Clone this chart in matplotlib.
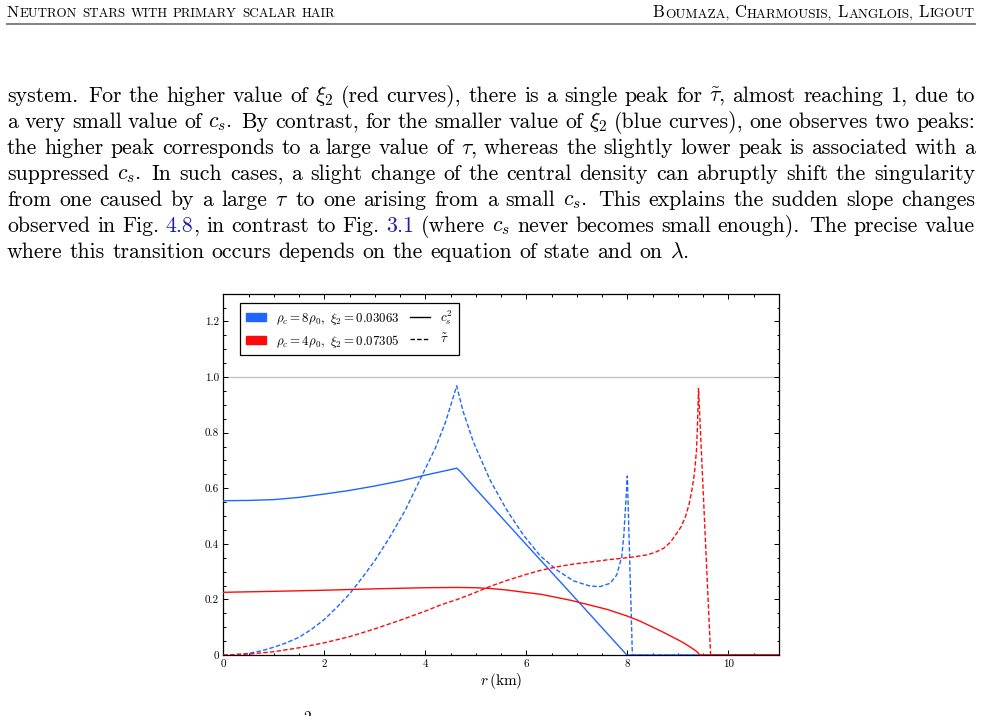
import matplotlib
matplotlib.use("Agg")
import matplotlib.pyplot as plt
from matplotlib.patches import Patch
from matplotlib.lines import Line2D
from matplotlib.ticker import MultipleLocator, FixedLocator, FuncFormatter

# ------------------------------------------------------------------ data
# blue: rho_c = 8 rho_0, xi_2 = 0.03063
r_blue_cs2 = [0, 0.5, 1, 1.5, 2, 2.5, 3, 3.5, 4, 4.3, 4.5, 4.62, 4.7, 5.0, 6.0, 7.0, 7.99, 11]
cs2_blue = [0.555, 0.556, 0.559, 0.567, 0.579, 0.592, 0.608, 0.626, 0.647, 0.659, 0.667, 0.672,
            0.659, 0.597, 0.397, 0.198, 0.0, 0.0]
r_blue_tau = [0, 0.25, 0.5, 0.75, 1.0, 1.25, 1.5, 1.75, 2.0, 2.25, 2.5, 2.75, 3.0, 3.3, 3.6,
              3.9, 4.2, 4.4, 4.62, 4.75, 4.95, 5.28, 5.61, 5.94, 6.27, 6.6, 6.93, 7.26, 7.46,
              7.66, 7.79, 7.89, 7.93, 7.96, 7.98, 8.0, 8.1, 11]
tau_blue = [0, 0.002, 0.006, 0.015, 0.028, 0.044, 0.064, 0.093, 0.128, 0.172, 0.22, 0.278, 0.34,
            0.425, 0.52, 0.633, 0.745, 0.838, 0.968, 0.875, 0.767, 0.63, 0.522, 0.432, 0.358,
            0.306, 0.267, 0.248, 0.246, 0.258, 0.288, 0.354, 0.43, 0.52, 0.58, 0.644, 0.0, 0.0]
# red: rho_c = 4 rho_0, xi_2 = 0.07305
r_red_cs2 = [0, 1, 2, 3, 4, 4.6, 5.0, 5.3, 5.6, 5.9, 6.3, 6.9, 7.6, 8.0, 8.25, 8.7, 9.0, 9.1,
             9.2, 9.3, 9.35, 9.40, 9.43, 11]
cs2_red = [0.2255, 0.229, 0.233, 0.238, 0.242, 0.243, 0.242, 0.239, 0.234, 0.227, 0.218, 0.196,
           0.164, 0.14, 0.122, 0.083, 0.055, 0.045, 0.034, 0.022, 0.016, 0.008, 0.0, 0.0]
r_red_tau = [0, 0.5, 1.0, 1.5, 2.0, 2.5, 3.0, 3.5, 4.0, 4.3, 4.62, 4.95, 5.3, 5.61, 6.0,
             6.27, 6.6, 6.93, 7.3, 7.59, 8.05, 8.39, 8.55, 8.72, 8.85, 8.98, 9.07, 9.15, 9.22,
             9.28, 9.33, 9.37, 9.39, 9.41, 9.65, 11]
tau_red = [0, 0.003, 0.012, 0.026, 0.044, 0.066, 0.094, 0.125, 0.158, 0.18, 0.199, 0.222, 0.248,
           0.268, 0.29, 0.304, 0.317, 0.327, 0.335, 0.342, 0.351, 0.36, 0.369, 0.384, 0.405,
           0.438, 0.463, 0.497, 0.54, 0.594, 0.655, 0.737, 0.83, 0.959, 0.0, 0.0]

x_ticks = [0, 2, 4, 6, 8, 10]
y_ticks = [0, 0.2, 0.4, 0.6, 0.8, 1.0, 1.2]
legend_series = [r"$\rho_c = 8\rho_0,\ \xi_2 = 0.03063$", r"$\rho_c = 4\rho_0,\ \xi_2 = 0.07305$"]
legend_styles = [r"$c_s^2$", r"$\tilde{\tau}$"]
x_label = r"$r\,$(km)"

header_left = "Neutron stars with primary scalar hair"
header_right = "Boumaza, Charmousis, Langlois, Ligout"
body_lines = [
    r"system. For the higher value of $\xi_2$ (red curves), there is a single peak for $\tilde{\tau}$, almost reaching 1, due to",
    r"a very small value of $c_s$. By contrast, for the smaller value of $\xi_2$ (blue curves), one observes two peaks:",
    r"the higher peak corresponds to a large value of $\tau$, whereas the slightly lower peak is associated with a",
    r"suppressed $c_s$. In such cases, a slight change of the central density can abruptly shift the singularity",
    r"from one caused by a large $\tau$ to one arising from a small $c_s$. This explains the sudden slope changes",
    r"observed in Fig. §4.8§, in contrast to Fig. §3.1§ (where $c_s$ never becomes small enough). The precise value",
    r"where this transition occurs depends on the equation of state and on $\lambda$.",
]

# ------------------------------------------------------------------ style
BLUE = "#1f66ff"
RED = "#ff0a0a"
LINK = "#1c1cb0"
W, H = 982, 716

plt.rcParams["font.family"] = "cmr10"
plt.rcParams["mathtext.fontset"] = "cm"
plt.rcParams["axes.formatter.use_mathtext"] = True

fig = plt.figure(figsize=(W / 100, H / 100), dpi=100)
renderer = fig.canvas.get_renderer()


def fx(px):
    return px / W


def fy(py):
    return 1 - py / H


def mk(s, size, color="black"):
    return fig.text(0, 0, s, fontsize=size, color=color, va="baseline", ha="left")


def wid(t):
    return t.get_window_extent(renderer).width


def space_w(size):
    a = mk("a a", size)
    b = mk("aa", size)
    w = wid(a) - wid(b)
    a.remove()
    b.remove()
    return w


# ---------------- header (small caps emulation)
def sc_words(s):
    words = []
    for w in s.split(" "):
        pieces = []
        if w[0].isupper():
            pieces.append((w[0], True))
            if len(w) > 1:
                pieces.append((w[1:].upper(), False))
        else:
            pieces.append((w.upper(), False))
        words.append(pieces)
    return words


def sc_line(s, size, x0=None, x1=None, y=17.0, draw=True):
    words = sc_words(s)
    small = size * 0.8
    sp = space_w(size) * 0.9
    items = []
    total = 0
    for wi, pieces in enumerate(words):
        for txt, big in pieces:
            t = mk(txt, size if big else small)
            w = wid(t)
            items.append((t, w))
            total += w + 0.4
        if wi < len(words) - 1:
            items.append((None, sp))
            total += sp
    if not draw:
        for t, w in items:
            if t is not None:
                t.remove()
        return total
    x = x0 if x0 is not None else x1 - total
    for t, w in items:
        if t is not None:
            t.set_position((fx(x), fy(y)))
            x += w + 0.4
        else:
            x += w
    return total


for s, target, side in [(header_left, 330.0, "l"), (header_right, 324.0, "r")]:
    w10 = sc_line(s, 10, draw=False)
    size = 10 * target / w10
    if side == "l":
        sc_line(s, size, x0=7)
    else:
        sc_line(s, size, x1=975)

fig.add_artist(Line2D([fx(7), fx(975)], [fy(23.5), fy(23.5)], color="#808080", lw=1.4,
                      transform=fig.transFigure))


# ---------------- body text, justified
def build_word(word, size):
    parts = word.split("§")
    res = []
    for k, p in enumerate(parts):
        if not p:
            continue
        t = mk(p, size, LINK if k % 2 == 1 else "black")
        res.append((t, wid(t)))
    return res


def layout_body(size, draw=True):
    sp = space_w(size)
    y0, dy = 101.5, 26.05
    last_nat = 0
    for li, line in enumerate(body_lines):
        words = [build_word(w, size) for w in line.split(" ")]
        widths = [sum(w for _, w in wd) for wd in words]
        weights = []
        for w in line.split(" ")[:-1]:
            weights.append(1.35 if (w.endswith(".") and w != "Fig.") or w.endswith(":") else 1.0)
        nat = sum(widths) + sp * sum(weights)
        if li == len(body_lines) - 1:
            last_nat = nat
            unit = sp
        else:
            unit = (968 - sum(widths)) / sum(weights)
        if not draw:
            for wd in words:
                for t, _ in wd:
                    t.remove()
            continue
        x = 7.0
        for wi, wd in enumerate(words):
            for t, w in wd:
                t.set_position((fx(x), fy(y0 + li * dy)))
                x += w
            if wi < len(weights):
                x += unit * weights[wi]
    return last_nat


nat16 = layout_body(16, draw=False)
layout_body(16 * 681.0 / nat16, draw=True)

# fragment of next line at the bottom edge
fig.text(fx(303), fy(722), "2", fontsize=11, va="baseline", ha="left")

# ------------------------------------------------------------------ chart
ax = fig.add_axes([223.4 / W, 1 - 655 / H, (778.8 - 223.4) / W, (655 - 293.6) / H])
ax.set_xlim(0, 11)
ax.set_ylim(0, 1.3)
ax.axhline(1.0, color="0.75", lw=0.9, zorder=1)

ls_dash = (0, (3.2, 1.6))
ax.plot(r_blue_cs2, cs2_blue, color=BLUE, lw=1.0, zorder=3)
ax.plot(r_blue_tau, tau_blue, color=BLUE, lw=1.0, ls=ls_dash, zorder=3)
ax.plot(r_red_cs2, cs2_red, color=RED, lw=1.0, zorder=4)
ax.plot(r_red_tau, tau_red, color=RED, lw=1.0, ls=ls_dash, zorder=4)

ax.xaxis.set_major_locator(FixedLocator(x_ticks))
ax.yaxis.set_major_locator(FixedLocator(y_ticks))
ax.xaxis.set_minor_locator(MultipleLocator(0.5))
ax.yaxis.set_minor_locator(MultipleLocator(0.05))
ax.xaxis.set_major_formatter(FuncFormatter(lambda v, p: "%d" % round(v)))
ax.yaxis.set_major_formatter(FuncFormatter(lambda v, p: "0" if abs(v) < 1e-9 else "%.1f" % v))
ax.tick_params(which="both", direction="in", top=True, right=True, labelsize=8, width=0.7)
ax.tick_params(which="major", length=3.5, pad=3)
ax.tick_params(which="minor", length=1.8)
for sp_ in ax.spines.values():
    sp_.set_linewidth(0.9)
ax.set_xlabel(x_label, fontsize=11, labelpad=2)

handles = [Patch(facecolor=BLUE, edgecolor=BLUE), Patch(facecolor=RED, edgecolor=RED),
           Line2D([], [], color="black", lw=1.0), Line2D([], [], color="black", lw=1.0, ls=ls_dash)]
labels = legend_series + legend_styles
leg = ax.legend(handles, labels, ncol=2, loc="upper left", bbox_to_anchor=(0.03, 0.975),
                borderaxespad=0, fontsize=9.3, frameon=True, fancybox=False, framealpha=1,
                edgecolor="black", handlelength=1.55, handleheight=0.55, columnspacing=0.85,
                labelspacing=0.45, borderpad=0.45, handletextpad=0.78)
leg.get_frame().set_linewidth(0.9)

fig.savefig("out.png", dpi=100)
